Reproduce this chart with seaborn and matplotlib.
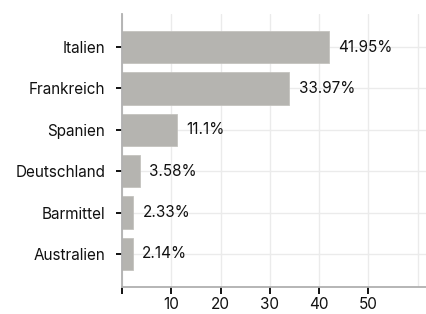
import matplotlib
matplotlib.use("Agg")
import matplotlib.pyplot as plt
import seaborn as sns
import pandas as pd

categories = ["Italien", "Frankreich", "Spanien", "Deutschland", "Barmittel", "Australien"]
values = [41.95, 33.97, 11.1, 3.58, 2.33, 2.14]
value_labels = ["41.95%", "33.97%", "11.1%", "3.58%", "2.33%", "2.14%"]
x_ticks = [0, 10, 20, 30, 40, 50]
x_tick_labels = ["", "10", "20", "30", "40", "50"]

sns.set_style("white")
plt.rcParams["font.family"] = ["Inter", "DejaVu Sans"]

df = pd.DataFrame({"category": categories, "value": values})

fig = plt.figure(figsize=(4.26, 3.14), dpi=100)
ax = fig.add_axes([122 / 426, 27 / 314, 1 - 122 / 426, 273 / 314])

sns.barplot(data=df, x="value", y="category", color="#b5b4b0", saturation=1,
            width=0.78, edgecolor="#c4c3bf", linewidth=0.6, ax=ax, zorder=2)

ax.set_xlim(0, 61.7)
ax.set_ylim(5.8, -0.8)
ax.set_xticks(x_ticks)
ax.set_xticklabels(x_tick_labels)
ax.set_xticks([60], minor=True)
ax.grid(True, which="both", color="#ebebeb", linewidth=1, zorder=0)
ax.set_axisbelow(True)
ax.tick_params(axis="x", which="minor", bottom=False, length=0)
ax.tick_params(axis="x", which="major", bottom=True, length=5, width=1.4,
               color="#111111", labelsize=11, pad=2.5, labelcolor="#111111")
ax.tick_params(axis="y", left=True, length=4, width=1.4, color="#111111",
               labelsize=11, pad=8, labelcolor="#111111")
ax.set_xlabel("")
ax.set_ylabel("")

for s in ["top", "right"]:
    ax.spines[s].set_visible(False)
for s in ["left", "bottom"]:
    ax.spines[s].set_color("#b0b0b0")
    ax.spines[s].set_linewidth(1.3)

for i, (v, lab) in enumerate(zip(values, value_labels)):
    ax.annotate(lab, (v, i), xytext=(7, 0), textcoords="offset points",
                va="center", ha="left", fontsize=11, color="#111111")

fig.savefig("out.png", dpi=100)
